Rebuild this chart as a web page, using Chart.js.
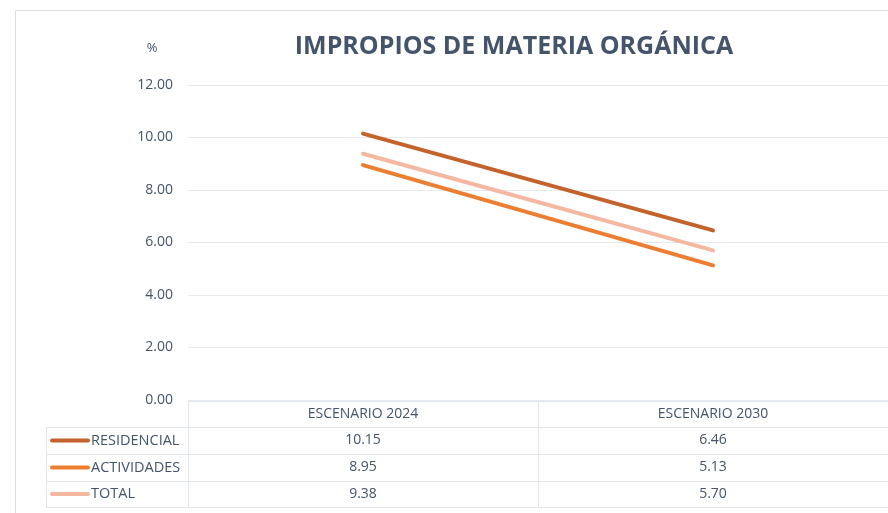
<!DOCTYPE html>
<html lang="es">
<head>
  <meta charset="UTF-8">
  <title>Impropios de materia orgánica</title>
  <script src="https://cdn.jsdelivr.net/npm/chart.js"></script>
  <style>
    html, body { margin: 0; padding: 0; background: #fff; }
    #chart { display: block; }
  </style>
</head>
<body>
  <canvas id="chart" width="888" height="513"></canvas>
  <script>
    // datos
    const escenarios = ['ESCENARIO 2024', 'ESCENARIO 2030'];
    const residencial = [10.15, 6.46];
    const actividades = [8.95, 5.13];
    const total = [9.38, 5.70];
    const nombres = ['RESIDENCIAL', 'ACTIVIDADES', 'TOTAL'];
    const colores = ['#C4622B', '#ED7D31', '#F4B7A0'];
    const ticksY = [0, 2, 4, 6, 8, 10, 12];

    const textoColor = '#44546A';
    const lineaTabla = '#E1E5EC';
    const fuente = '"Open Sans", "Noto Sans", sans-serif';

    // marco, titulo y tabla de datos
    const tablaPlugin = {
      id: 'tabla',
      beforeDraw(chart) {
        const c = chart.ctx;
        c.save();
        c.strokeStyle = '#D9DDE4';
        c.lineWidth = 1;
        c.beginPath();
        c.moveTo(15.5, 513);
        c.lineTo(15.5, 10.5);
        c.lineTo(888, 10.5);
        c.stroke();
        c.restore();
      },
      afterDraw(chart) {
        const c = chart.ctx;
        const x = chart.scales.x;
        const area = chart.chartArea;
        c.save();

        c.fillStyle = textoColor;
        c.font = 'bold 25px ' + fuente;
        c.textAlign = 'center';
        c.textBaseline = 'middle';
        c.fillText('IMPROPIOS DE MATERIA ORGÁNICA', 514, 47);
        c.font = '13px ' + fuente;
        c.fillText('%', 152, 48);

        const top = area.bottom + 1;
        const filas = [top, 427, 454, 481, 507];
        const izq = 46;
        const colIzq = area.left;
        const medio = (x.getPixelForValue(0) + x.getPixelForValue(1)) / 2;

        c.strokeStyle = lineaTabla;
        c.lineWidth = 1;
        c.beginPath();
        c.moveTo(colIzq, top + 0.5); c.lineTo(888, top + 0.5);
        for (let i = 1; i < filas.length; i++) {
          c.moveTo(izq, filas[i] + 0.5); c.lineTo(888, filas[i] + 0.5);
        }
        c.moveTo(izq + 0.5, filas[1]); c.lineTo(izq + 0.5, filas[4]);
        c.moveTo(colIzq + 0.5, top); c.lineTo(colIzq + 0.5, filas[4]);
        c.moveTo(Math.round(medio) + 0.5, top); c.lineTo(Math.round(medio) + 0.5, filas[4]);
        c.stroke();

        c.font = '14px ' + fuente;
        c.fillStyle = textoColor;
        c.textAlign = 'center';
        escenarios.forEach((e, i) => {
          c.fillText(e, x.getPixelForValue(i), (filas[0] + filas[1]) / 2);
        });

        chart.data.datasets.forEach((ds, r) => {
          const yc = (filas[r + 1] + filas[r + 2]) / 2;
          c.strokeStyle = ds.borderColor;
          c.lineWidth = 4;
          c.lineCap = 'round';
          c.beginPath();
          c.moveTo(52, yc); c.lineTo(88, yc);
          c.stroke();
          c.textAlign = 'left';
          c.fillStyle = textoColor;
          c.font = '14.5px ' + fuente;
          c.fillText(ds.label, 91, yc);
          c.textAlign = 'center';
          c.font = '14px ' + fuente;
          ds.data.forEach((v, i) => {
            c.fillText(v.toFixed(2), x.getPixelForValue(i), yc);
          });
        });
        c.restore();
      }
    };

    const series = [residencial, actividades, total];
    new Chart(document.getElementById('chart'), {
      type: 'line',
      data: {
        labels: escenarios,
        datasets: series.map((d, i) => ({
          label: nombres[i],
          data: d,
          borderColor: colores[i],
          backgroundColor: colores[i],
          borderWidth: 4,
          pointRadius: 0,
          borderCapStyle: 'round',
          tension: 0
        }))
      },
      options: {
        responsive: false,
        animation: false,
        layout: { padding: { top: 85, bottom: 113, left: 0, right: 0 } },
        plugins: { legend: { display: false }, tooltip: { enabled: false } },
        scales: {
          x: { display: false, offset: true },
          y: {
            min: 0,
            max: 12,
            afterFit(s) { s.width = 188; },
            afterBuildTicks(s) { s.ticks = ticksY.map(v => ({ value: v })); },
            border: { display: false },
            grid: { color: '#E6E9EE', drawTicks: false },
            ticks: {
              padding: 15,
              color: textoColor,
              font: { family: fuente, size: 14 },
              callback: v => v.toFixed(2)
            }
          }
        }
      },
      plugins: [tablaPlugin]
    });
  </script>
</body>
</html>
